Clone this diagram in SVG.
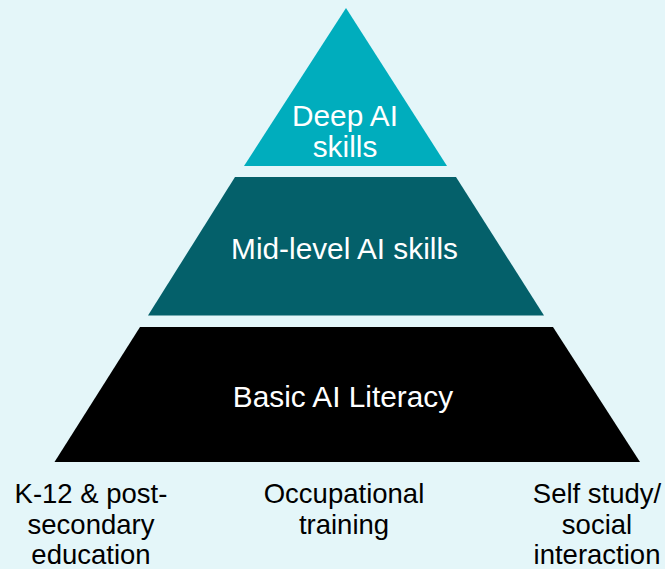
<svg xmlns="http://www.w3.org/2000/svg" width="665" height="569" viewBox="0 0 665 569">
<style>
.lbl{font-family:"Liberation Sans",Arial,sans-serif;text-anchor:middle}
.in{fill:#ffffff;font-size:29.8px}
.out{fill:#000000;font-size:27.5px}
</style>
<rect width="665" height="569" fill="#e4f6f9"/>
<g id="deep">
<polygon points="346,8 447,166 244,166" fill="#00adbd"/>
<text class="lbl in" x="345" y="126">Deep AI</text>
<text class="lbl in" x="345" y="157">skills</text>
</g>
<g id="mid">
<polygon points="235,177 456,177 544,315.5 148,315.5" fill="#04606a"/>
<text class="lbl in" x="344.5" y="259">Mid-level AI skills</text>
</g>
<g id="basic">
<polygon points="140,327 553,327 640,462 54.5,462" fill="#000000"/>
<text class="lbl in" x="343" y="407">Basic AI Literacy</text>
</g>
<g id="k12">
<text class="lbl out" x="91" y="503">K-12 &amp; post-</text>
<text class="lbl out" x="91" y="534">secondary</text>
<text class="lbl out" x="91" y="564">education</text>
</g>
<g id="occupational">
<text class="lbl out" x="344" y="503">Occupational</text>
<text class="lbl out" x="344" y="534">training</text>
</g>
<g id="self">
<text class="lbl out" x="597" y="503">Self study/</text>
<text class="lbl out" x="597" y="534">social</text>
<text class="lbl out" x="597" y="564">interaction</text>
</g>
<g id="connectors"/>
</svg>
